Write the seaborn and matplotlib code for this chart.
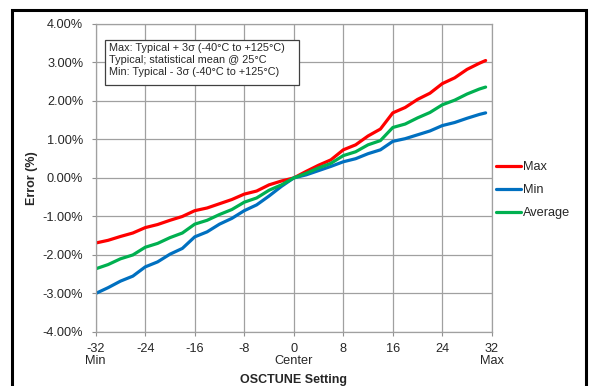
# IMPORT PACKAGES -----------------------------------------------------------------
import pandas as pd
import seaborn as sns
import matplotlib.pyplot as plt
from matplotlib.ticker import PercentFormatter
from matplotlib.patches import Rectangle

# DATA ----------------------------------------------------------------------------
osctune = [-32, -30, -28, -26, -24, -22, -20, -18, -16, -14, -12, -10, -8, -6, -4, -2,
           0, 2, 4, 6, 8, 10, 12, 14, 16, 18, 20, 22, 24, 26, 28, 30, 31]

err_max = [-1.69, -1.62, -1.52, -1.43, -1.29, -1.21, -1.10, -1.00, -0.85, -0.78, -0.67,
           -0.56, -0.42, -0.34, -0.18, -0.08, 0.00, 0.17, 0.33, 0.47, 0.73, 0.86, 1.09,
           1.27, 1.69, 1.83, 2.04, 2.20, 2.45, 2.60, 2.82, 2.98, 3.05]
err_min = [-3.00, -2.85, -2.68, -2.55, -2.31, -2.18, -1.98, -1.83, -1.53, -1.40, -1.20,
           -1.05, -0.85, -0.70, -0.47, -0.22, 0.00, 0.08, 0.19, 0.30, 0.42, 0.50, 0.63,
           0.73, 0.95, 1.02, 1.12, 1.22, 1.36, 1.44, 1.55, 1.65, 1.69]
err_avg = [-2.36, -2.25, -2.10, -2.00, -1.80, -1.70, -1.55, -1.43, -1.20, -1.10, -0.95,
           -0.82, -0.63, -0.52, -0.32, -0.18, 0.00, 0.12, 0.26, 0.38, 0.58, 0.68, 0.86,
           0.97, 1.31, 1.40, 1.56, 1.70, 1.90, 2.02, 2.18, 2.31, 2.36]

x_ticks = [-32, -24, -16, -8, 0, 8, 16, 24, 32]
x_tick_labels = ["-32\nMin", "-24", "-16", "-8", "0\nCenter", "8", "16", "24", "32\nMax"]
y_ticks = [-4, -3, -2, -1, 0, 1, 2, 3, 4]

note_lines = ["Max: Typical + 3\u03c3 (-40\u00b0C to +125\u00b0C)",
              "Typical; statistical mean @ 25\u00b0C",
              "Min: Typical - 3\u03c3 (-40\u00b0C to +125\u00b0C)"]

df = pd.DataFrame({"OSCTUNE": osctune * 3,
                   "Error": err_max + err_min + err_avg,
                   "Series": ["Max"] * len(osctune) + ["Min"] * len(osctune)
                             + ["Average"] * len(osctune)})

# PLOT ----------------------------------------------------------------------------
sns.set_style("white")
plt.rcParams['font.family'] = ['Liberation Sans', 'DejaVu Sans']
plt.rcParams['axes.unicode_minus'] = False

fig = plt.figure(figsize=(5.89, 3.86), dpi=100)
ax = fig.add_axes([0.1625, 0.140, 0.6725, 0.798])

palette = {"Max": "#FF0000", "Min": "#0070C0", "Average": "#00B050"}
sns.lineplot(data=df, x="OSCTUNE", y="Error", hue="Series", palette=palette,
             linewidth=2.3, ax=ax)

ax.set_xlim(-32, 32)
ax.set_ylim(-4, 4)
ax.set_xticks(x_ticks)
ax.set_xticklabels(x_tick_labels, fontsize=9.2, linespacing=1.0)
ax.set_yticks(y_ticks)
ax.yaxis.set_major_formatter(PercentFormatter(decimals=2))
ax.tick_params(axis="y", labelsize=9.2, length=3, color="#909090", direction="out",
               left=True, pad=6)
ax.tick_params(axis="x", length=3, color="#909090", direction="out", bottom=True, pad=5)
ax.grid(True, color="#a0a0a0", linewidth=0.9)
for s in ax.spines.values():
    s.set_color("#a0a0a0")
    s.set_linewidth(0.9)

ax.set_xlabel("OSCTUNE Setting", fontsize=9, fontweight="bold", labelpad=5)
ax.set_ylabel("Error (%)", fontsize=9, fontweight="bold", labelpad=3)

handles, labels = ax.get_legend_handles_labels()
ax.legend(handles, labels, loc="center left", bbox_to_anchor=(1.0, 0.46), frameon=False,
          fontsize=9.2, handlelength=2.0, handletextpad=0.15, labelspacing=0.85,
          borderaxespad=0.1, borderpad=0.2)

# note box
ax.add_patch(Rectangle((0.0235, 0.802), 0.4895, 0.146, transform=ax.transAxes,
                       facecolor="white", edgecolor="#404040", linewidth=0.9, zorder=5))
for i, line in enumerate(note_lines):
    ax.text(0.0336, 0.921 - i * 0.039, line, transform=ax.transAxes, fontsize=7.8,
            va="center", ha="left", zorder=6)

# outer frame
fig.patches.append(Rectangle((0.0204, -0.02), 0.974, 0.994, transform=fig.transFigure,
                             fill=False, edgecolor="black", linewidth=2.2))

fig.savefig("out.png", dpi=100)
